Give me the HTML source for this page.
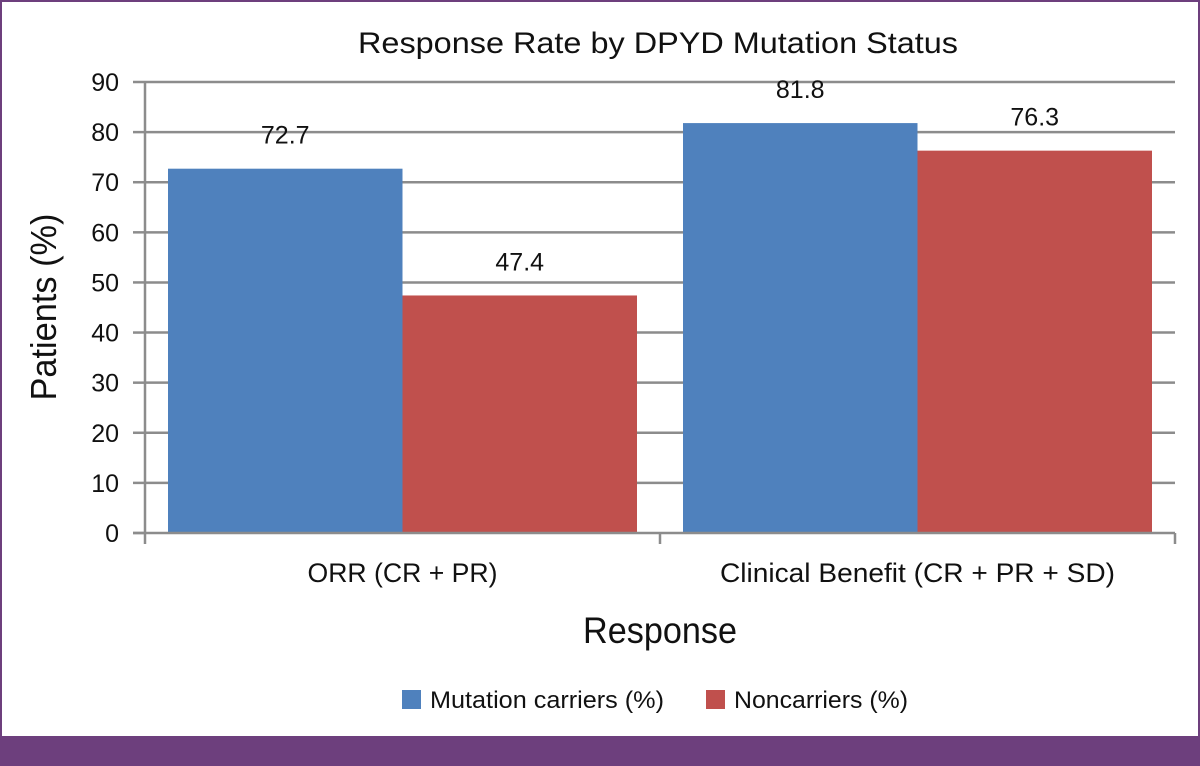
<!DOCTYPE html>
<html><head><meta charset="utf-8">
<style>
body{margin:0;width:1200px;height:766px;overflow:hidden;background:#fff;font-family:"Liberation Sans",sans-serif;}
#frame{position:absolute;left:0;top:0;width:1196px;height:734px;border:2px solid #6d3f7d;border-bottom:none;border-right:3px solid #6d3f7d;box-sizing:content-box;}
#band{position:absolute;left:0;top:736px;width:1200px;height:30px;background:#6d3f7d;}
</style></head><body>
<div id="frame"></div>
<div id="band"></div>
<svg id="chart" width="1200" height="766" style="position:absolute;left:0;top:0">
<text x="658" y="53" font-size="30" text-anchor="middle" textLength="600" lengthAdjust="spacingAndGlyphs" fill="#111">Response Rate by DPYD Mutation Status</text>
<text x="56" y="307" font-size="36" text-anchor="middle" textLength="187" lengthAdjust="spacingAndGlyphs" fill="#111" transform="rotate(-90 56 307)">Patients (%)</text>
<text x="660" y="643" font-size="37" text-anchor="middle" textLength="154" lengthAdjust="spacingAndGlyphs" fill="#111">Response</text>
<g id="grid"></g><g id="bars"></g><g id="axes"></g>
<g>
<rect x="402" y="690" width="19" height="19" fill="#4f81bd"/>
<text x="430" y="708" font-size="24" textLength="234" lengthAdjust="spacingAndGlyphs" fill="#111">Mutation carriers (%)</text>
<rect x="706" y="690" width="19" height="19" fill="#c0504d"/>
<text x="734" y="708" font-size="24" textLength="174" lengthAdjust="spacingAndGlyphs" fill="#111">Noncarriers (%)</text>
</g>
</svg>
<script>
const categories=["ORR (CR + PR)","Clinical Benefit (CR + PR + SD)"];
const carriers=[72.7,81.8];
const noncarriers=[47.4,76.3];
const yTicks=[0,10,20,30,40,50,60,70,80,90];
const NS="http://www.w3.org/2000/svg";
const x0=145,x1=1175,yBase=533,yTop=82,yMax=90;
const y=v=>yBase-(v/yMax)*(yBase-yTop);
const catW=(x1-x0)/categories.length;
const catLen=[190,395];
function mk(tag,attrs,parent){const e=document.createElementNS(NS,tag);for(const k in attrs)e.setAttribute(k,attrs[k]);parent.appendChild(e);return e;}
const grid=document.getElementById('grid'),bars=document.getElementById('bars'),axes=document.getElementById('axes');
yTicks.forEach(t=>{
 if(t>0){const g=mk('line',{x1:x0,x2:x1,y1:y(t),y2:y(t),stroke:'#8c8c8c','stroke-width':2.5},grid);
 
 }
 const tk=mk('line',{x1:x0-12,x2:x0,y1:y(t),y2:y(t),stroke:'#8c8c8c','stroke-width':2.5},axes);
 
 
 const lb=mk('text',{x:x0-26,y:y(t)+9,'font-size':25,'text-anchor':'end',fill:'#111'},axes);
 lb.textContent=t;
 
 
});
const series=[{vals:carriers,color:'#4f81bd',name:'carriers'},{vals:noncarriers,color:'#c0504d',name:'noncarriers'}];
const gap=23,bw=(catW-2*gap)/2;
categories.forEach((c,i)=>{
 series.forEach((s,j)=>{
  const bx=x0+i*catW+gap+j*bw,v=s.vals[i];
  const r=mk('rect',{x:bx,y:y(v),width:bw,height:yBase-y(v),fill:s.color},bars);
  
  
  const t=mk('text',{x:bx+bw/2,y:y(v)-25,'font-size':25,'text-anchor':'middle',fill:'#111'},bars);
  t.textContent=v.toFixed(1);
  
  
 });
 const cl=mk('text',{x:x0+(i+0.5)*catW,y:582,'font-size':27,'text-anchor':'middle',textLength:catLen[i],lengthAdjust:'spacingAndGlyphs',fill:'#111'},axes);
 cl.textContent=c;
 
 
});
for(let i=0;i<=categories.length;i++){
 const tx=x0+i*catW;
 const l=mk('line',{x1:tx,x2:tx,y1:yBase,y2:yBase+11,stroke:'#8c8c8c','stroke-width':2.5},axes);
 
 
}
const ya=mk('line',{x1:x0,x2:x0,y1:yTop,y2:yBase,stroke:'#8c8c8c','stroke-width':2.5},axes);


const xa=mk('line',{x1:x0-12,x2:x1,y1:yBase,y2:yBase,stroke:'#8c8c8c','stroke-width':2.5},axes);


</script>
</body></html>
